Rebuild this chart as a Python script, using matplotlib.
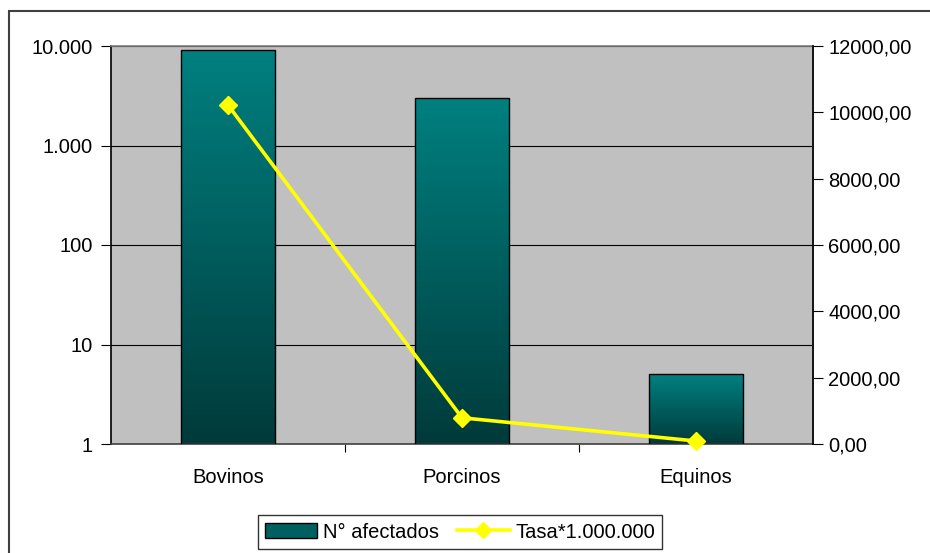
import numpy as np
import matplotlib
matplotlib.use("Agg")
import matplotlib.pyplot as plt
from matplotlib.patches import Rectangle
from matplotlib.lines import Line2D
from matplotlib.ticker import FixedLocator, FixedFormatter, NullLocator
from matplotlib.colors import LinearSegmentedColormap

categories = ["Bovinos", "Porcinos", "Equinos"]
afectados = [9100, 3000, 5]
tasa = [10220, 790, 90]
left_ticks = [1, 10, 100, 1000, 10000]
left_labels = ["1", "10", "100", "1.000", "10.000"]
right_ticks = [0, 2000, 4000, 6000, 8000, 10000, 12000]
right_labels = ["0,00", "2000,00", "4000,00", "6000,00", "8000,00", "10000,00", "12000,00"]

plt.rcParams['font.family'] = ['Liberation Sans', 'DejaVu Sans']
FS = 14.5

fig = plt.figure(figsize=(9.30, 5.53), dpi=100)
W, H = 930, 553

# outer chart frame
fig.patches.append(Rectangle((9 / W, -0.1), 1.2, 1 - 11 / H + 0.1, transform=fig.transFigure,
                             fill=False, edgecolor="#404040", linewidth=1.5, zorder=0))

ax = fig.add_axes([111 / W, 1 - 444 / H, (813 - 111) / W, (444 - 46) / H])
ax.set_facecolor("#C0C0C0")
ax.set_yscale("log")
ax.set_ylim(1, 10000)
ax.set_xlim(-0.5, len(categories) - 0.5)

x = np.arange(len(categories))
bw = 0.40
heights = [v - 1 for v in afectados]
bars = ax.bar(x, heights, width=bw, bottom=1, facecolor="none", edgecolor="black",
              linewidth=1.0, zorder=3)

cmap = LinearSegmentedColormap.from_list("teal", ["#003A3A", "#008080"])
grad = np.linspace(0, 1, 256).reshape(-1, 1)
to_axes = ax.transScale + ax.transLimits
for xi, v in zip(x, afectados):
    (x0, y0) = to_axes.transform((xi - bw / 2, 1))
    (x1, y1) = to_axes.transform((xi + bw / 2, v))
    ax.imshow(grad, cmap=cmap, origin="lower", aspect="auto", interpolation="bilinear",
              extent=(x0, x1, y0, y1), transform=ax.transAxes, zorder=2)
ax.set_xlim(-0.5, len(categories) - 0.5)
ax.set_ylim(1, 10000)

ax.yaxis.set_major_locator(FixedLocator(left_ticks))
ax.yaxis.set_major_formatter(FixedFormatter(left_labels))
ax.yaxis.set_minor_locator(NullLocator())
ax.grid(axis="y", which="major", color="black", linewidth=0.8, zorder=1)
ax.tick_params(axis="y", which="major", direction="out", length=7, width=0.8,
               labelsize=FS, pad=6, colors="black")

ax.set_xticks(x)
ax.set_xticklabels(categories, fontsize=FS)
ax.set_xticks([0.5, 1.5], minor=True)
ax.tick_params(axis="x", which="major", length=0, pad=17)
ax.tick_params(axis="x", which="minor", direction="out", length=6, width=0.8)

ax.spines["top"].set_color("#808080")
ax.spines["left"].set_color("black")
ax.spines["bottom"].set_color("#404040")
ax.spines["right"].set_color("#808080")
for s in ax.spines.values():
    s.set_linewidth(1.2)

ax2 = ax.twinx()
ax2.set_ylim(0, 12000)
ax2.yaxis.set_major_locator(FixedLocator(right_ticks))
ax2.yaxis.set_major_formatter(FixedFormatter(right_labels))
ax2.tick_params(axis="y", direction="out", length=7, width=0.8, labelsize=FS, pad=4)
ax2.spines["right"].set_color("black")
ax2.spines["right"].set_linewidth(1.2)
for k in ["top", "left", "bottom"]:
    ax2.spines[k].set_visible(False)
ax2.plot(x, tasa, color="#FFFF00", linewidth=2.6, marker="D", markersize=9,
         markerfacecolor="#FFFF00", markeredgecolor="#FFFF00", zorder=5, clip_on=False)

handles = [Rectangle((0, 0), 1, 1, facecolor="#006060", edgecolor="black", linewidth=1.0),
           Line2D([], [], color="#FFFF00", linewidth=2.6, marker="D", markersize=8)]
leg = fig.legend(handles, ["N° afectados", "Tasa*1.000.000"], loc="center",
                 bbox_to_anchor=(460 / W, 1 - 532 / H), ncol=2, frameon=True, fancybox=False,
                 fontsize=FS, handlelength=2.6, handleheight=0.7, columnspacing=0.9,
                 handletextpad=0.3, borderpad=0.35)
leg.get_frame().set_edgecolor("black")
leg.get_frame().set_linewidth(1.0)

fig.savefig("out.png", dpi=100)
